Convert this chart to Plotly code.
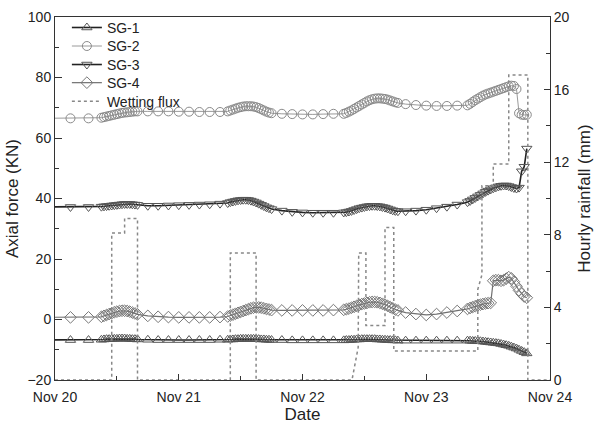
import pandas as pd
import plotly.graph_objects as go

# Sample times, hours after Nov 20 00:00
hours = [-3, 3, 6.5,
         9, 9.5, 10, 10.5, 11, 11.5, 12, 12.5, 13, 13.5, 14, 14.5, 15, 15.5, 16,
         18, 20, 22, 24, 26, 28, 30, 32,
         33.5, 34, 34.5, 35, 35.5, 36, 36.5, 37, 37.5, 38, 38.5, 39, 39.5, 40, 40.5, 41, 41.5, 42,
         44, 46, 48, 50, 52, 54,
         56, 56.5, 57, 57.5, 58, 58.5, 59, 59.5, 60, 60.5, 61, 61.5, 62, 62.5, 63, 63.5, 64, 64.5, 65, 65.5, 66, 66.5,
         68, 70, 72, 74, 76, 78,
         80, 80.5, 81, 81.5, 82, 82.5, 83, 83.5, 84, 84.5, 85, 85.5, 86, 86.5, 87, 87.5, 88, 88.5, 89, 89.5, 90, 90.5, 91, 91.5]

sg1 = [-6.8, -6.8, -6.8,
       -6.7, -6.6, -6.5, -6.5, -6.4, -6.4, -6.4, -6.3, -6.3, -6.3, -6.4, -6.4, -6.5, -6.5, -6.6,
       -6.7, -6.8, -6.8, -6.8, -6.8, -6.8, -6.8, -6.7,
       -6.7, -6.6, -6.6, -6.5, -6.5, -6.4, -6.4, -6.4, -6.4, -6.4, -6.4, -6.5, -6.5, -6.6, -6.6, -6.7, -6.7, -6.8,
       -6.8, -6.9, -6.9, -6.9, -6.9, -6.9,
       -6.9, -6.8, -6.8, -6.7, -6.7, -6.6, -6.6, -6.5, -6.5, -6.5, -6.5, -6.5, -6.5, -6.6, -6.6, -6.7, -6.7, -6.8, -6.8, -6.9, -6.9, -7.0,
       -7.0, -7.0, -7.0, -7.0, -7.0, -7.0,
       -7.0, -7.0, -7.1, -7.1, -7.2, -7.2, -7.3, -7.4, -7.5, -7.6, -7.7, -7.8, -7.9, -8.1, -8.3, -8.5, -8.7, -9.0, -9.3, -9.6, -10.0, -10.4, -10.8, -11.2]

sg2 = [66.5, 66.5, 66.5,
       66.7, 66.9, 67.1, 67.3, 67.5, 67.7, 67.9, 68.1, 68.3, 68.4, 68.5, 68.6, 68.7, 68.8, 68.8,
       68.8, 68.8, 68.8, 68.7, 68.7, 68.6, 68.6, 68.6,
       68.8, 69.1, 69.4, 69.7, 70.0, 70.2, 70.4, 70.5, 70.5, 70.5, 70.4, 70.2, 69.9, 69.5, 69.1, 68.7, 68.4, 68.2,
       68.0, 67.9, 67.8, 67.8, 67.9, 68.0,
       68.0, 68.3, 68.7, 69.1, 69.6, 70.1, 70.6, 71.1, 71.6, 72.1, 72.5, 72.8, 73.0, 73.1, 73.1, 73.0, 72.9, 72.7, 72.4, 72.1, 71.8, 71.6,
       71.2, 70.9, 70.7, 70.6, 70.6, 70.7,
       70.8, 71.3, 71.9, 72.5, 73.0, 73.5, 74.0, 74.4, 74.7, 75.0, 75.3, 75.6, 75.9, 76.2, 76.5, 76.8, 77.1, 77.3, 77.2, 76.2, 68.2, 67.7, 67.6, 67.7]

sg3 = [37.2, 37.2, 37.2,
       37.3, 37.4, 37.5, 37.6, 37.7, 37.8, 37.9, 38.0, 38.1, 38.2, 38.2, 38.2, 38.1, 38.0, 37.9,
       37.6, 37.6, 37.7, 37.8, 37.9, 38.0, 38.1, 38.3,
       38.5, 38.8, 39.0, 39.2, 39.4, 39.5, 39.6, 39.6, 39.5, 39.3, 39.0, 38.7, 38.3, 37.9, 37.5, 37.1, 36.8, 36.5,
       36.0, 35.6, 35.4, 35.3, 35.3, 35.3,
       35.4, 35.5, 35.7, 35.9, 36.2, 36.5, 36.8, 37.0, 37.2, 37.4, 37.5, 37.6, 37.6, 37.5, 37.4, 37.2, 37.0, 36.7, 36.4, 36.1, 35.9, 35.8,
       35.8, 36.0, 36.3, 36.8, 37.3, 38.0,
       38.8, 39.2, 39.7, 40.2, 40.7, 41.2, 41.7, 42.2, 42.6, 43.0, 43.4, 43.7, 44.0, 44.2, 44.3, 44.3, 44.1, 43.8, 43.5, 43.3, 43.6, 49.0, 50.5, 56.5]

sg4 = [0.7, 0.7, 0.7,
       0.9, 1.2, 1.5, 1.8, 2.1, 2.4, 2.6, 2.8, 2.9, 2.9, 2.8, 2.6, 2.3, 2.0, 1.7,
       1.2, 0.9, 0.8, 0.7, 0.7, 0.7, 0.7, 0.8,
       1.0, 1.3, 1.6, 1.9, 2.2, 2.5, 2.8, 3.1, 3.4, 3.7, 3.9, 4.0, 4.0, 3.9, 3.7, 3.5, 3.3, 3.1,
       3.0, 3.0, 3.0, 3.0, 3.0, 3.1,
       3.2, 3.4, 3.6, 3.9, 4.2, 4.5, 4.8, 5.1, 5.3, 5.5, 5.7, 5.8, 5.8, 5.7, 5.5, 5.2, 4.9, 4.5, 4.1, 3.7, 3.3, 3.0,
       2.3, 1.8, 1.5, 1.8, 2.3, 2.8,
       3.5, 3.8, 4.1, 4.4, 4.7, 4.9, 5.1, 5.3, 5.4, 5.5, 12.8, 13.0, 13.0, 12.8, 13.0, 13.5, 14.0, 13.6, 12.5, 11.0, 9.6, 8.5, 7.6, 7.2]

# Wetting flux (hourly rainfall) outline vertices
rain_hours = [0, 11, 11, 13.5, 13.5, 16, 16, 34, 34, 39, 39, 57.6, 58.8, 58.9, 60.3, 60.3, 64, 64,
              65.7, 65.7, 82, 82, 82.8, 82.8, 85, 85, 88, 88, 91.7, 91.7, 96]
rain_mm = [0, 0, 8.1, 8.1, 8.9, 8.9, 0, 0, 7.0, 7.0, 0, 0, 1.8, 7.0, 7.0, 3.0, 3.0, 8.4,
           8.4, 1.6, 1.6, 5.0, 5.8, 10.7, 10.7, 11.9, 11.9, 16.8, 16.8, 0, 0]

base = pd.Timestamp("2013-11-20 00:00")
t = [base + pd.Timedelta(hours=h) for h in hours]
tr = [base + pd.Timedelta(hours=h) for h in rain_hours]

legend_ids = ["legend", "legend2", "legend3", "legend4", "legend5"]

fig = go.Figure()
styles = [
    ("SG-1", sg1, "triangle-up-open", "#222222", 1.6, "#555555"),
    ("SG-2", sg2, "circle-open", "#9a9a9a", 1.0, "#8a8a8a"),
    ("SG-3", sg3, "triangle-down-open", "#222222", 1.6, "#555555"),
    ("SG-4", sg4, "diamond-open", "#707070", 1.2, "#777777"),
]
for i, (name, vals, sym, lc, lw, mc) in enumerate(styles):
    fig.add_trace(go.Scatter(
        x=t, y=vals, name=name, mode="lines+markers", legend=legend_ids[i],
        line=dict(color=lc, width=lw),
        marker=dict(symbol=sym, size=9, color=mc, line=dict(width=1, color=mc)),
    ))

fig.add_trace(go.Scatter(
    x=tr, y=rain_mm, name="Wetting flux", mode="lines", yaxis="y2", legend=legend_ids[4],
    line=dict(color="#888888", width=1.5, dash="dot"),
))

leg_y = [0.970, 0.919, 0.868, 0.818, 0.767]
legends = {}
for lid, ly in zip(legend_ids, leg_y):
    legends[lid] = dict(x=0.024, y=ly, xanchor="left", yanchor="middle",
                        bgcolor="rgba(0,0,0,0)", font=dict(size=14))

fig.update_layout(
    width=594, height=425,
    margin=dict(l=55, r=44, t=15, b=45),
    plot_bgcolor="white", paper_bgcolor="white",
    font=dict(family="Liberation Sans, Arial, sans-serif", size=14, color="#222222"),
    showlegend=True,
    **legends,
    xaxis=dict(
        type="date", automargin=False,
        range=[base, base + pd.Timedelta(days=4)],
        dtick=86400000, tickformat="%b %d",
        ticks="inside", ticklen=6, tickcolor="#333",
        ticklabelstandoff=4,
        minor=dict(dtick=43200000, ticks="inside", ticklen=4, tickcolor="#333"),
        showline=True, linecolor="#333", linewidth=1, mirror=True,
        showgrid=False, zeroline=False,
        title=dict(text="Date", standoff=2),
    ),
    yaxis=dict(
        range=[-20, 100], dtick=20, automargin=False,
        ticks="inside", ticklen=7, tickcolor="#333",
        minor=dict(dtick=10, ticks="inside", ticklen=4, tickcolor="#333"),
        showline=True, linecolor="#333", linewidth=1,
        showgrid=False, zeroline=False,
        title=dict(text="Axial force (KN)", standoff=4),
    ),
    yaxis2=dict(
        overlaying="y", side="right", automargin=False,
        range=[0, 20], dtick=4,
        ticks="inside", ticklen=6, tickcolor="#333",
        minor=dict(dtick=2, ticks="inside", ticklen=4, tickcolor="#333"),
        showline=True, linecolor="#333", linewidth=1,
        showgrid=False, zeroline=False,
        title=dict(text="Hourly rainfall (mm)", standoff=10),
    ),
)

fig.write_html("out.html")
